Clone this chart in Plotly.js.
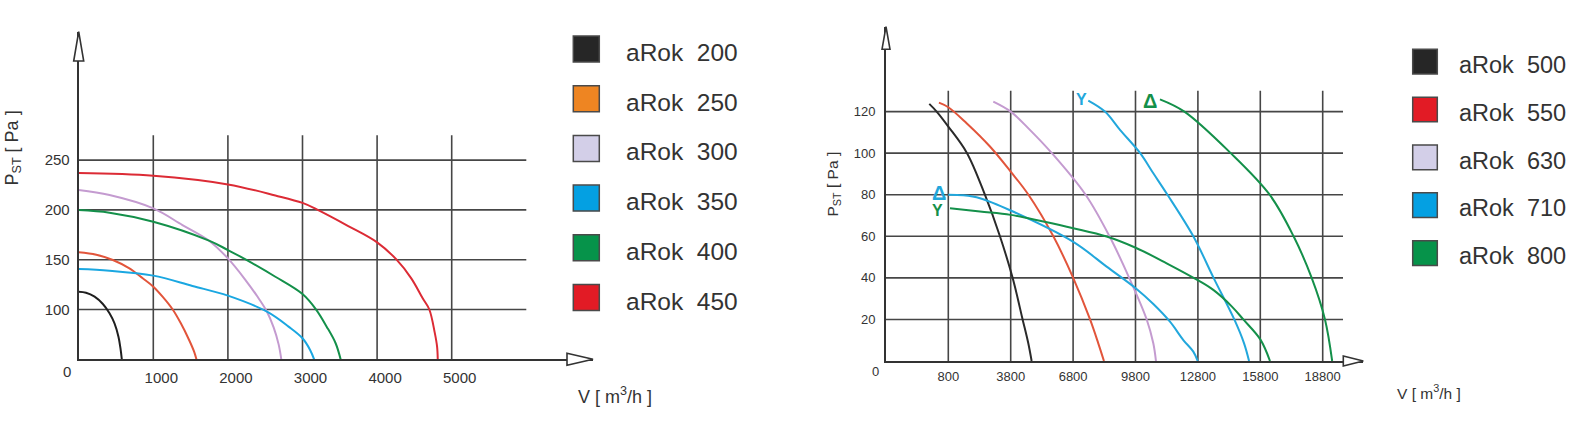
<!DOCTYPE html>
<html>
<head>
<meta charset="utf-8">
<script src="https://cdn.plot.ly/plotly-3.0.1.min.js"></script>
<style>
html,body{margin:0;padding:0;background:#fff;}
#chart{width:1580px;height:431px;}
</style>
</head>
<body>
<div id="chart"></div>
<script>
// ---------- DATA: left chart (aRok 200 - 450) ----------
// y values read on the gridline scale (the axis line sits at the "50" level, labelled 0)
const leftNames = ['aRok  200','aRok  250','aRok  300','aRok  350','aRok  400','aRok  450'];
const leftLineColors = ['#1f1f1f','#e2553b','#c49bd0','#1aa7e1','#14904a','#dc2b35'];
const leftSwatchColors = ['#262626','#ee8522','#d3cfe8','#04a0e2','#06934a','#e21b25'];
const l200x = [0, 98, 213, 324, 413, 480, 533, 560, 578];
const l200y = [117.9, 116.9, 112.9, 105.5, 96.2, 86.1, 72.7, 61, 50];
const l250x = [0, 236, 458, 680, 858, 1000, 1124, 1258, 1369, 1480, 1547, 1578];
const l250y = [157.4, 155, 149.7, 141.3, 131.3, 122.9, 112.9, 100.2, 86.1, 69.4, 57.7, 50];
const l300x = [0, 413, 1000, 1391, 1747, 2000, 2236, 2391, 2524, 2613, 2680, 2716];
const l300y = [219.9, 214.9, 201.5, 184.8, 169.1, 151.3, 129.6, 113.5, 97.8, 82, 65, 50];
const l350x = [0, 413, 1000, 1524, 2000, 2524, 2813, 3000, 3102, 3156];
const l350y = [140.6, 139, 134, 123.6, 113.9, 97.8, 82.8, 71.1, 59.4, 50];
const l400x = [0, 413, 1000, 1747, 2000, 2236, 2636, 3000, 3180, 3324, 3444, 3511];
const l400y = [199.8, 197.2, 188.1, 169.1, 159.7, 150.3, 132.9, 115.5, 100.2, 82.8, 66.1, 50];
const l450x = [0, 1000, 2000, 2636, 3000, 3191, 3613, 4000, 4258, 4458, 4613, 4700, 4772, 4804, 4813];
const l450y = [237, 234.3, 225.6, 214.5, 207, 200.5, 183.8, 167.4, 150.3, 131.3, 111, 100, 77, 62.7, 50];
const leftXTicks = [1000, 2000, 3000, 4000, 5000];
const leftYTicks = [100, 150, 200, 250];

// ---------- DATA: right chart (aRok 500 - 800) ----------
const rightNames = ['aRok  500','aRok  550','aRok  630','aRok  710','aRok  800'];
const rightLineColors = ['#2a2a2a','#e2553b','#c49bd0','#22a7dc','#14904a'];
const rightSwatchColors = ['#262626','#e21b25','#d3cfe8','#04a0e2','#06934a'];
const r500x = [-114, 240, 800, 1700, 2560, 3283, 3892, 4373, 4646, 4806];
const r500y = [123.7, 120, 112.8, 100, 80, 60, 40, 20, 8.5, 0];
const r550x = [349, 800, 1681, 2803, 3800, 4646, 5850, 6809, 7611, 8011, 8284];
const r550y = [124.3, 122.1, 114.4, 103.2, 91.1, 80.1, 60, 39.9, 20.1, 8.5, 0];
const r630x = [2963, 3800, 4723, 5768, 7400, 8550, 9502, 10335, 10656, 10784];
const r630y = [124.8, 120, 111.2, 100.1, 80, 60, 39.9, 20.1, 8.5, 0];
const r710Yx = [7530, 8332, 9054, 10016, 10657, 11330, 12579, 13560, 14550, 15020, 15260];
const r710Yy = [125.3, 120, 111.2, 100.1, 90.3, 80.1, 60, 39.9, 20, 8.5, 0];
const r710Dx = [800, 1521, 2322, 3796, 6809, 8412, 9808, 10657, 11458, 12099, 12580, 12790];
const r710Dy = [80, 79.7, 78.3, 72.4, 57.3, 45.4, 35, 27.4, 18.9, 10.1, 4.5, 0];
const r800Dx = [10976, 12150, 14380, 16250, 17400, 18271, 18910, 19255];
const r800Dy = [125.9, 120, 100, 80, 60, 40, 20, 0];
const r800Yx = [881, 2322, 3796, 5367, 6809, 8412, 9808, 11298, 12771, 13540, 14425, 14983, 15800, 16266];
const r800Yy = [73.5, 71.9, 70.3, 67.1, 63.9, 59.9, 54.5, 47, 39, 34.2, 26.3, 20, 10.4, 0];
const rightXTicks = [800, 3800, 6800, 9800, 12800, 15800, 18800];
const rightYTicks = [20, 40, 60, 80, 100, 120];
// connection labels (Y = star, Δ = delta)
const connText  = ['Y', 'Δ', 'Δ', 'Y'];
const connColor = ['#22a7dc', '#14904a', '#22a7dc', '#14904a'];
const connX = [7180, 10497, 353, 271];
const connY = [126.0, 125.2, 80.7, 72.3];

// ---------- LAYOUT HELPERS ----------
const W = 1580, H = 431;
const px = v => v / W;
const py = v => 1 - v / H;
const FONT = '"Liberation Sans", Arial, sans-serif';
const TXT = '#333333';
const GRID = '#464646';

const L = {x0: 78.7, xTip: 593, yAxis: 359.3, yTip: 31.7, pxPerX: 0.0746, pxPerY: 0.996, yMin: 50};
L.xMax = (L.xTip - L.x0) / L.pxPerX;
L.yMax = L.yMin + (L.yAxis - L.yTip) / L.pxPerY;
const R = {x0: 886, xTip: 1363.3, yAxis: 361, yTip: 26.7, pxPerX: 0.0208, pxPerY: 2.0785, xMin: -2195};
R.xMax = R.xMin + (R.xTip - R.x0) / R.pxPerX;
R.yMax = (R.yAxis - R.yTip) / R.pxPerY;

const traces = [];
function addLine(x, y, color, xa, ya) {
  traces.push({x: x, y: y, type: 'scatter', mode: 'lines', xaxis: xa, yaxis: ya,
    line: {color: color, width: 2, shape: 'spline', smoothing: 1}, hoverinfo: 'skip', showlegend: false});
}
const leftSeries = [[l200x,l200y],[l250x,l250y],[l300x,l300y],[l350x,l350y],[l400x,l400y],[l450x,l450y]];
leftSeries.forEach((s, i) => addLine(s[0], s[1], leftLineColors[i], 'x', 'y'));
const rightSeries = [[r500x,r500y,0],[r550x,r550y,1],[r630x,r630y,2],[r710Yx,r710Yy,3],[r710Dx,r710Dy,3],[r800Dx,r800Dy,4],[r800Yx,r800Yy,4]];
rightSeries.forEach(s => addLine(s[0], s[1], rightLineColors[s[2]], 'x2', 'y2'));

const shapes = [];
const annotations = [];
leftXTicks.forEach(v => shapes.push({type:'line', xref:'x', yref:'y', x0:v, x1:v, y0:L.yMin, y1:275, line:{color:GRID, width:1.6}, layer:'below'}));
leftYTicks.forEach(v => shapes.push({type:'line', xref:'x', yref:'y', x0:0, x1:6000, y0:v, y1:v, line:{color:GRID, width:1.6}, layer:'below'}));
rightXTicks.forEach(v => shapes.push({type:'line', xref:'x2', yref:'y2', x0:v, x1:v, y0:0, y1:130, line:{color:GRID, width:1.6}, layer:'below'}));
rightYTicks.forEach(v => shapes.push({type:'line', xref:'x2', yref:'y2', x0:R.xMin, x1:19776, y0:v, y1:v, line:{color:GRID, width:1.6}, layer:'below'}));

function tri(pts) {
  return {type:'path', xref:'paper', yref:'paper', layer:'above',
    path: 'M' + pts.map(p => px(p[0]) + ',' + py(p[1])).join(' L') + ' Z',
    fillcolor:'#ffffff', line:{color:'#333333', width:1.6}};
}
shapes.push(tri([[L.x0-5, 61], [L.x0, L.yTip], [L.x0+5, 61]]));
shapes.push(tri([[567, L.yAxis-6], [L.xTip, L.yAxis], [567, L.yAxis+6]]));
shapes.push(tri([[R.x0-4, 49.3], [R.x0, R.yTip], [R.x0+4, 49.3]]));
shapes.push(tri([[1343.3, R.yAxis-5], [R.xTip, R.yAxis], [1343.3, R.yAxis+5]]));

leftNames.forEach((n, i) => {
  const top = 36 + i * 49.7;
  shapes.push({type:'rect', xref:'paper', yref:'paper', x0:px(573.3), x1:px(599.3), y0:py(top+26), y1:py(top),
    fillcolor:leftSwatchColors[i], line:{color:'#4a4a4a', width:1.5}});
  annotations.push({xref:'paper', yref:'paper', x:px(624), y:py(top+16.5), xanchor:'left', yanchor:'middle',
    text:n.replace(/ /g,'\u00a0'), showarrow:false, font:{family:FONT, size:24.5, color:TXT}});
});
rightNames.forEach((n, i) => {
  const top = 49.3 + i * 47.85;
  shapes.push({type:'rect', xref:'paper', yref:'paper', x0:px(1412.7), x1:px(1437.3), y0:py(top+24.7), y1:py(top),
    fillcolor:rightSwatchColors[i], line:{color:'#4a4a4a', width:1.5}});
  annotations.push({xref:'paper', yref:'paper', x:px(1456.7), y:py(top+15.5), xanchor:'left', yanchor:'middle',
    text:n.replace(/ /g,'\u00a0'), showarrow:false, font:{family:FONT, size:23.5, color:TXT}});
});

annotations.push({xref:'paper', yref:'paper', x:px(12.5), y:py(148), text:'P<sub>ST</sub> [ Pa ]', textangle:-90,
  showarrow:false, xanchor:'center', yanchor:'middle', font:{family:FONT, size:18, color:TXT}});
annotations.push({xref:'paper', yref:'paper', x:px(832.5), y:py(184), text:'P<sub>ST</sub> [ Pa ]', textangle:-90,
  showarrow:false, xanchor:'center', yanchor:'middle', font:{family:FONT, size:15.5, color:TXT}});
annotations.push({xref:'paper', yref:'paper', x:px(615), y:py(395), text:'V [ m<sup>3</sup>/h ]',
  showarrow:false, xanchor:'center', yanchor:'middle', font:{family:FONT, size:18, color:TXT}});
annotations.push({xref:'paper', yref:'paper', x:px(1429), y:py(391.5), text:'V [ m<sup>3</sup>/h ]',
  showarrow:false, xanchor:'center', yanchor:'middle', font:{family:FONT, size:15.5, color:TXT}});
annotations.push({xref:'paper', yref:'paper', x:px(66.7), y:py(371.7), text:'0',
  showarrow:false, xanchor:'center', yanchor:'middle', font:{family:FONT, size:15, color:TXT}});
annotations.push({xref:'paper', yref:'paper', x:px(876), y:py(371), text:'0',
  showarrow:false, xanchor:'center', yanchor:'middle', font:{family:FONT, size:13, color:TXT}});
connText.forEach((t, i) => annotations.push({xref:'x2', yref:'y2', x:connX[i], y:connY[i], text:'<b>'+t+'</b>',
  showarrow:false, xanchor:'center', yanchor:'middle', font:{family:FONT, size:t==='Δ'?20:16, color:connColor[i]}}));

const axBase = {showgrid:false, zeroline:false, showline:true, linecolor:'#333333', linewidth:2,
  ticks:'', fixedrange:true, tickmode:'array'};

const layout = {
  width: W, height: H,
  margin: {l:0, r:0, t:0, b:0},
  paper_bgcolor: '#ffffff', plot_bgcolor: 'rgba(0,0,0,0)',
  showlegend: false,
  xaxis: Object.assign({}, axBase, {domain:[px(L.x0), px(L.xTip)], range:[0, L.xMax], anchor:'y',
    tickvals:leftXTicks, ticktext:leftXTicks.map(String), tickfont:{family:FONT, size:15, color:TXT},
    ticklabelshift:8, ticklabelstandoff:4}),
  yaxis: Object.assign({}, axBase, {domain:[py(L.yAxis), py(L.yTip)], range:[L.yMin, L.yMax], anchor:'x',
    tickvals:leftYTicks, ticktext:leftYTicks.map(String), tickfont:{family:FONT, size:15, color:TXT},
    ticklabelstandoff:4}),
  xaxis2: Object.assign({}, axBase, {domain:[px(R.x0), px(R.xTip)], range:[R.xMin, R.xMax], anchor:'y2',
    tickvals:rightXTicks, ticktext:rightXTicks.map(String), tickfont:{family:FONT, size:13, color:TXT},
    ticklabelstandoff:2}),
  yaxis2: Object.assign({}, axBase, {domain:[py(R.yAxis), py(R.yTip)], range:[0, R.yMax], anchor:'x2',
    tickvals:rightYTicks, ticktext:rightYTicks.map(String), tickfont:{family:FONT, size:13, color:TXT},
    ticklabelstandoff:6}),
  shapes: shapes,
  annotations: annotations
};

Plotly.newPlot('chart', traces, layout, {staticPlot:true, displayModeBar:false});
</script>
</body>
</html>
